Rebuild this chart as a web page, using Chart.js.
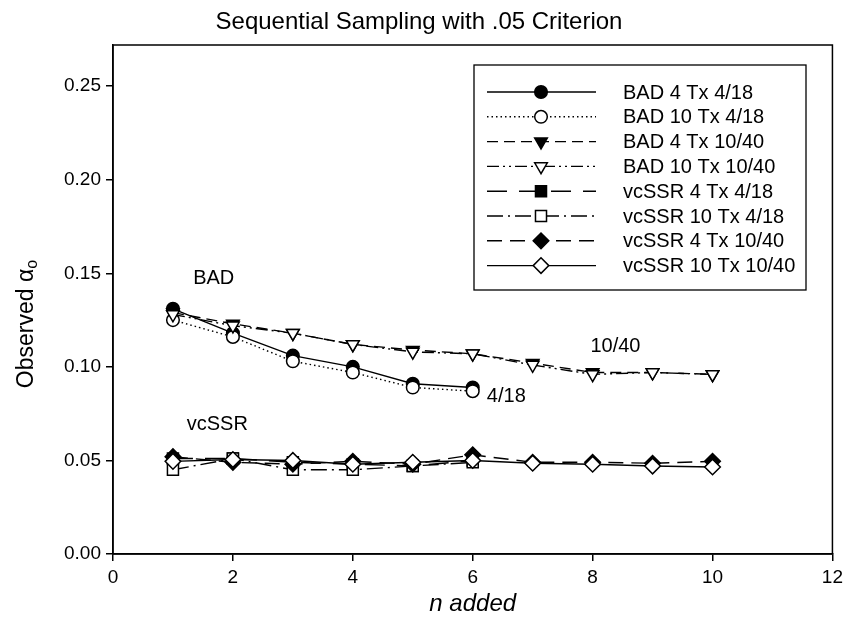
<!DOCTYPE html>
<html>
<head>
<meta charset="utf-8">
<script src="https://cdn.jsdelivr.net/npm/chart.js@4.4.1/dist/chart.umd.min.js"></script>
<style>
  body { margin: 0; background: #fff; }
  canvas { display: block; }
</style>
</head>
<body>
<canvas id="graph" width="848" height="621"></canvas>
<script>
const nAdded = [1, 2, 3, 4, 5, 6, 7, 8, 9, 10];
const seriesNames = ['BAD 4 Tx 4/18', 'BAD 10 Tx 4/18', 'BAD 4 Tx 10/40', 'BAD 10 Tx 10/40',
  'vcSSR 4 Tx 4/18', 'vcSSR 10 Tx 4/18', 'vcSSR 4 Tx 10/40', 'vcSSR 10 Tx 10/40'];
const bad4Tx418 = [0.131, 0.118, 0.106, 0.100, 0.091, 0.089];
const bad10Tx418 = [0.125, 0.116, 0.103, 0.097, 0.089, 0.087];
const bad4Tx1040 = [0.129, 0.123, 0.118, 0.112, 0.109, 0.107, 0.102, 0.097, 0.097, 0.096];
const bad10Tx1040 = [0.128, 0.122, 0.118, 0.112, 0.108, 0.107, 0.101, 0.096, 0.097, 0.096];
const vc4Tx418 = [0.051, 0.051, 0.049, 0.048, 0.047, 0.050];
const vc10Tx418 = [0.045, 0.051, 0.045, 0.045, 0.047, 0.049];
const vc4Tx1040 = [0.052, 0.049, 0.048, 0.0495, 0.048, 0.053, 0.049, 0.049, 0.0485, 0.0495];
const vc10Tx1040 = [0.0495, 0.0505, 0.050, 0.048, 0.049, 0.050, 0.0485, 0.048, 0.047, 0.0465];
const xTicks = [0, 2, 4, 6, 8, 10, 12];
const yTicks = [0, 0.05, 0.10, 0.15, 0.20, 0.25];
const notes = [
  {text: 'BAD', x: 1.68, y: 0.147},
  {text: 'vcSSR', x: 1.74, y: 0.069},
  {text: '10/40', x: 8.38, y: 0.111},
  {text: '4/18', x: 6.56, y: 0.084}
];

const allSeries = [bad4Tx418, bad10Tx418, bad4Tx1040, bad10Tx1040, vc4Tx418, vc10Tx418, vc4Tx1040, vc10Tx1040];

const looks = [
  {dash: [], style: 'circle', open: false, rot: 0, r: 6.3},
  {dash: [1.5, 3], style: 'circle', open: true, rot: 0, r: 6.3},
  {dash: [11, 6], style: 'triangle', open: false, rot: 180, r: 7.3},
  {dash: [12, 4, 2, 4, 2, 4], style: 'triangle', open: true, rot: 180, r: 7.3},
  {dash: [20, 12], style: 'rect', open: false, rot: 0, r: 7.8},
  {dash: [16, 5, 2, 5], style: 'rect', open: true, rot: 0, r: 7.8},
  {dash: [15, 8], style: 'rectRot', open: false, rot: 0, r: 7.8},
  {dash: [], style: 'rectRot', open: true, rot: 0, r: 7.8}
];

const font = '"Liberation Sans", Arial, sans-serif';

const datasets = allSeries.map((vals, i) => {
  const lk = looks[i];
  return {
    label: seriesNames[i],
    data: vals.map((v, j) => ({x: nAdded[j], y: v})),
    borderColor: '#000',
    borderWidth: 1.4,
    borderDash: lk.dash,
    backgroundColor: lk.open ? '#fff' : '#000',
    pointStyle: lk.style,
    pointRotation: lk.rot,
    pointRadius: lk.r,
    pointBorderWidth: 1.5,
    pointBorderColor: '#000',
    pointBackgroundColor: lk.open ? '#fff' : '#000',
    fill: false,
    tension: 0,
    order: 7 - i
  };
});

const decor = {
  id: 'decor',
  afterDraw(chart) {
    const {ctx, chartArea: a, scales: {x, y}} = chart;
    ctx.save();
    ctx.strokeStyle = '#000';
    ctx.lineWidth = 1.5;
    ctx.strokeRect(a.left, a.top, a.right - a.left, a.bottom - a.top);

    ctx.fillStyle = '#000';
    ctx.textAlign = 'center';
    ctx.textBaseline = 'middle';
    ctx.font = '24px ' + font;
    ctx.fillText('Sequential Sampling with .05 Criterion', 419, 22);

    ctx.font = 'italic 24px ' + font;
    ctx.fillText('n added', (a.left + a.right) / 2, 604);

    // y title with subscript
    ctx.save();
    ctx.translate(27, 324);
    ctx.rotate(-Math.PI / 2);
    ctx.textAlign = 'left';
    ctx.font = '23px ' + font;
    const main = 'Observed \u03b1';
    const w1 = ctx.measureText(main).width;
    ctx.font = '16px ' + font;
    const w2 = ctx.measureText('o').width;
    let sx = -(w1 + w2) / 2;
    ctx.font = '23px ' + font;
    ctx.fillText(main, sx, 0);
    ctx.font = '16px ' + font;
    ctx.fillText('o', sx + w1, 6);
    ctx.restore();

    ctx.font = '20px ' + font;
    notes.forEach(n => {
      ctx.fillText(n.text, x.getPixelForValue(n.x), y.getPixelForValue(n.y));
    });

    // legend
    const box = {left: 474, top: 65, right: 806, bottom: 290};
    ctx.fillStyle = '#fff';
    ctx.fillRect(box.left, box.top, box.right - box.left, box.bottom - box.top);
    ctx.lineWidth = 1.3;
    ctx.strokeRect(box.left, box.top, box.right - box.left, box.bottom - box.top);
    ctx.textAlign = 'left';
    ctx.font = '20px ' + font;
    chart.data.datasets.forEach((ds, i) => {
      const ry = 92 + i * 24.8;
      ctx.strokeStyle = '#000';
      ctx.lineWidth = ds.borderWidth;
      ctx.setLineDash(ds.borderDash);
      ctx.beginPath();
      ctx.moveTo(487, ry);
      ctx.lineTo(596, ry);
      ctx.stroke();
      ctx.setLineDash([]);
      ctx.fillStyle = ds.pointBackgroundColor;
      ctx.lineWidth = ds.pointBorderWidth;
      Chart.helpers.drawPoint(ctx, {
        pointStyle: ds.pointStyle,
        radius: ds.pointRadius,
        rotation: ds.pointRotation,
        borderWidth: ds.pointBorderWidth
      }, 541, ry);
      ctx.fillStyle = '#000';
      ctx.fillText(ds.label, 623, ry + 1);
    });
    ctx.restore();
  }
};

const myChart = new Chart(document.getElementById('graph'), {
  type: 'line',
  data: {datasets: datasets},
  plugins: [decor],
  options: {
    responsive: false,
    animation: false,
    layout: {padding: {left: 0, top: 45, right: 12, bottom: 0}, autoPadding: false},
    plugins: {legend: {display: false}, tooltip: {enabled: false}, title: {display: false}},
    scales: {
      x: {
        type: 'linear',
        min: 0,
        max: 12,
        afterFit: (scale) => { scale.height = 67; },
        afterBuildTicks: (scale) => { scale.ticks = xTicks.map(v => ({value: v})); },
        grid: {drawOnChartArea: false, drawTicks: true, tickLength: 7, color: '#000', lineWidth: 1.5},
        border: {display: true, color: '#000', width: 1.5},
        ticks: {color: '#000', font: {family: font, size: 19}, padding: 5, maxRotation: 0}
      },
      y: {
        type: 'linear',
        min: 0,
        max: 0.272,
        afterFit: (scale) => { scale.width = 113; },
        afterBuildTicks: (scale) => { scale.ticks = yTicks.map(v => ({value: v})); },
        grid: {drawOnChartArea: false, drawTicks: true, tickLength: 7, color: '#000', lineWidth: 1.5},
        border: {display: true, color: '#000', width: 1.5},
        ticks: {color: '#000', font: {family: font, size: 19}, padding: 5,
          callback: (v) => Number(v).toFixed(2)}
      }
    }
  }
});
</script>
</body>
</html>
